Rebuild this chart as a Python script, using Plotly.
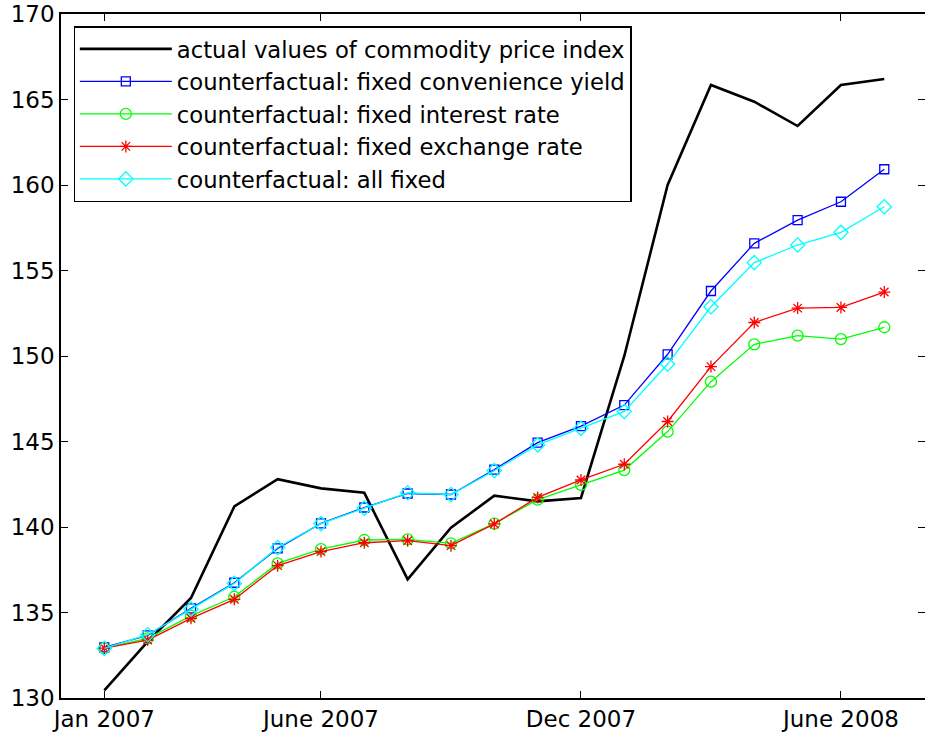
import plotly.graph_objects as go

# month index: 1 = Jan 2007 ... 19 = Jul 2008
months = list(range(1, 20))
tick_vals = [1, 6, 12, 18]
tick_text = ["Jan 2007", "June 2007", "Dec 2007", "June 2008"]
y_ticks = [130, 135, 140, 145, 150, 155, 160, 165, 170]

actual = [130.45, 133.3, 135.85, 141.2, 142.8, 142.26, 142.0, 136.94, 139.96, 141.83,
          141.5, 141.7, 150.0, 160.0, 165.85, 164.87, 163.45, 165.85, 166.2]
fixed_conv = [132.96, 133.66, 135.24, 136.74, 138.75, 140.21, 141.14, 141.96, 141.9, 143.36,
              144.93, 145.9, 147.13, 150.1, 153.8, 156.59, 157.95, 159.02, 160.92]
fixed_int = [132.92, 133.49, 134.8, 135.92, 137.87, 138.71, 139.24, 139.28, 139.04, 140.2,
             141.6, 142.46, 143.33, 145.58, 148.5, 150.68, 151.19, 150.99, 151.68]
fixed_exch = [132.92, 133.39, 134.66, 135.77, 137.74, 138.56, 139.08, 139.2, 138.91, 140.18,
              141.73, 142.75, 143.67, 146.17, 149.38, 151.96, 152.8, 152.84, 153.74]
all_fixed = [132.9, 133.7, 135.2, 136.7, 138.8, 140.2, 141.1, 142.0, 141.9, 143.3,
             144.8, 145.77, 146.76, 149.53, 152.88, 155.46, 156.49, 157.23, 158.73]

names = ["actual values of commodity price index",
         "counterfactual: fixed convenience yield",
         "counterfactual: fixed interest rate",
         "counterfactual: fixed exchange rate",
         "counterfactual: all fixed"]

FONT = "DejaVu Sans, Verdana, sans-serif"
FS = 23
LFS = 22.7

fig = go.Figure()
fig.add_trace(go.Scatter(x=months, y=actual, name=names[0], mode="lines",
                         line=dict(color="black", width=2.6)))
fig.add_trace(go.Scatter(x=months, y=fixed_conv, name=names[1], mode="lines+markers",
                         line=dict(color="#0000FF", width=1.3),
                         marker=dict(symbol="square-open", size=9, color="#0000FF",
                                     line=dict(width=1.3, color="#0000FF"))))
fig.add_trace(go.Scatter(x=months, y=fixed_int, name=names[2], mode="lines+markers",
                         line=dict(color="#00FF00", width=1.3),
                         marker=dict(symbol="circle-open", size=11, color="#00FF00",
                                     line=dict(width=1.3, color="#00FF00"))))
fig.add_trace(go.Scatter(x=months, y=fixed_exch, name=names[3], mode="lines+markers",
                         line=dict(color="#FF0000", width=1.3),
                         marker=dict(symbol="asterisk-open", size=10, color="#FF0000",
                                     line=dict(width=1.3, color="#FF0000"))))
fig.add_trace(go.Scatter(x=months, y=all_fixed, name=names[4], mode="lines+markers",
                         line=dict(color="#00FFFF", width=1.3),
                         marker=dict(symbol="diamond-open", size=11, color="#00FFFF",
                                     line=dict(width=1.3, color="#00FFFF"))))
# invisible trace for right-side ticks
fig.add_trace(go.Scatter(x=[months[0]], y=[fixed_conv[0]], yaxis="y2", mode="markers",
                         marker=dict(opacity=0), showlegend=False, hoverinfo="skip"))

fig.update_layout(
    width=925, height=738,
    margin=dict(l=61, r=0, t=14, b=40, autoexpand=False),
    paper_bgcolor="white", plot_bgcolor="white",
    font=dict(family=FONT, size=FS, color="black"),
    showlegend=True,
    legend=dict(x=0.0145, y=0.982, xanchor="left", yanchor="top",
                bgcolor="white", bordercolor="black", borderwidth=1.3,
                font=dict(family=FONT, size=LFS, color="black"),
                itemwidth=92, tracegroupgap=0, traceorder="normal"),
    xaxis=dict(range=[0, 19.94], tickmode="array", tickvals=tick_vals, ticktext=tick_text,
               ticks="inside", ticklen=7, tickwidth=1, tickcolor="black",
               showline=True, linecolor="black", linewidth=1.5, mirror="ticks",
               showgrid=False, zeroline=False,
               tickfont=dict(family=FONT, size=FS, color="black")),
    yaxis=dict(range=[130, 170], tickmode="array", tickvals=y_ticks,
               ticks="inside", ticklen=7, tickwidth=1, tickcolor="black",
               showline=True, linecolor="black", linewidth=1.5, mirror=False,
               showgrid=False, zeroline=False,
               tickfont=dict(family=FONT, size=FS, color="black")),
    yaxis2=dict(range=[130, 170], overlaying="y", side="right", tickmode="array",
                tickvals=y_ticks, ticks="inside", ticklen=7, tickwidth=1, tickcolor="black",
                showticklabels=False, showline=False, showgrid=False, zeroline=False),
)

fig.write_html("out.html", config={"displayModeBar": False},
               post_script="document.body.style.margin='0';document.body.style.padding='0';")
